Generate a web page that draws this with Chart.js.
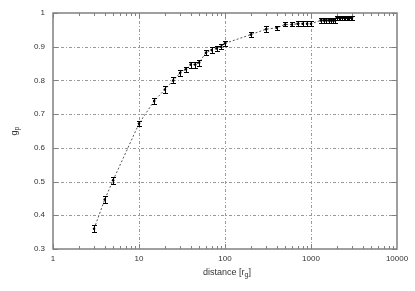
<!DOCTYPE html>
<html>
<head>
<meta charset="utf-8">
<script src="https://cdn.jsdelivr.net/npm/chart.js@4/dist/chart.umd.min.js"></script>
<style>
  html, body { margin: 0; padding: 0; background: #fff; }
  #wrap { width: 415px; height: 291px; }
</style>
</head>
<body>
<div id="wrap"><canvas id="gp-chart" width="415" height="291"></canvas></div>
<script>
// distance in r_g, g_p and its error
const distance = [3, 4, 5, 10, 15, 20, 25, 30, 35, 40, 45, 50, 60, 70, 80, 90, 100,
  200, 300, 400, 500, 600, 700, 800, 900, 1000,
  1300, 1400, 1500, 1600, 1700, 1800, 1900,
  2000, 2100, 2200, 2300, 2400, 2500, 2600, 2700, 2800, 2900, 3000];
const gp = [0.36, 0.447, 0.504, 0.672, 0.739, 0.773, 0.80, 0.822, 0.833, 0.847, 0.847, 0.853, 0.882, 0.89, 0.895, 0.90, 0.91,
  0.936, 0.952, 0.956, 0.966, 0.966, 0.968, 0.968, 0.968, 0.968,
  0.978, 0.978, 0.978, 0.978, 0.978, 0.978, 0.978,
  0.986, 0.986, 0.986, 0.986, 0.986, 0.986, 0.986, 0.986, 0.986, 0.986, 0.986];
const gpErr = [0.01, 0.011, 0.01, 0.008, 0.009, 0.009, 0.009, 0.009, 0.008, 0.009, 0.009, 0.009, 0.008, 0.008, 0.008, 0.008, 0.008,
  0.008, 0.008, 0.006, 0.006, 0.006, 0.008, 0.008, 0.008, 0.008,
  0.007, 0.007, 0.007, 0.007, 0.007, 0.007, 0.007,
  0.006, 0.006, 0.006, 0.006, 0.006, 0.006, 0.006, 0.006, 0.006, 0.006, 0.006];

const xTicks = [1, 10, 100, 1000, 10000];
const yTicks = [0.3, 0.4, 0.5, 0.6, 0.7, 0.8, 0.9, 1.0];
const xTitle = 'distance [r';
const xTitleSub = 'g';
const yTitle = 'g';
const yTitleSub = 'p';

function seg(ctx, x1, y1, x2, y2) {
  ctx.beginPath();
  ctx.moveTo(x1, y1);
  ctx.lineTo(x2, y2);
  ctx.stroke();
}

// gnuplot look: dash-dot grid, inward ticks on all four sides, error bars, titles with subscripts
const gnuplotStyle = {
  id: 'gnuplotStyle',
  beforeDatasetsDraw(chart) {
    const { ctx, chartArea: a, scales: { x, y } } = chart;
    ctx.save();
    ctx.strokeStyle = '#9a9a9a';
    ctx.lineWidth = 1;
    ctx.setLineDash([3, 2, 1, 2]);
    xTicks.slice(1, -1).forEach(v => {
      const px = Math.round(x.getPixelForValue(v)) + 0.5;
      seg(ctx, px, a.top, px, a.bottom);
    });
    yTicks.slice(1, -1).forEach(v => {
      const py = Math.round(y.getPixelForValue(v)) + 0.5;
      seg(ctx, a.left, py, a.right, py);
    });
    ctx.restore();
  },
  afterDatasetsDraw(chart) {
    const { ctx, chartArea: a, scales: { x, y } } = chart;
    ctx.save();

    // error bars
    ctx.strokeStyle = '#000';
    ctx.lineWidth = 1;
    distance.forEach((d, i) => {
      const px = Math.round(x.getPixelForValue(d)) + 0.5;
      const top = Math.round(y.getPixelForValue(gp[i] + gpErr[i])) + 0.5;
      const bot = Math.round(y.getPixelForValue(gp[i] - gpErr[i])) + 0.5;
      seg(ctx, px, top, px, bot);
      seg(ctx, px - 2.5, top, px + 2.5, top);
      seg(ctx, px - 2.5, bot, px + 2.5, bot);
    });

    // frame
    ctx.strokeStyle = '#808080';
    ctx.lineWidth = 1.5;
    ctx.strokeRect(a.left, a.top, a.right - a.left, a.bottom - a.top);

    // ticks
    ctx.lineWidth = 1;
    ctx.strokeStyle = '#808080';
    for (let dec = 1; dec < 10000; dec *= 10) {
      for (let m = 1; m < 10; m++) {
        const v = dec * m;
        const px = Math.round(x.getPixelForValue(v)) + 0.5;
        const len = m === 1 ? 5 : 3;
        seg(ctx, px, a.bottom, px, a.bottom - len);
        seg(ctx, px, a.top, px, a.top + len);
      }
    }
    yTicks.forEach(v => {
      const py = Math.round(y.getPixelForValue(v)) + 0.5;
      seg(ctx, a.left, py, a.left + 5, py);
      seg(ctx, a.right, py, a.right - 5, py);
    });

    // axis titles
    ctx.fillStyle = '#333';
    ctx.textBaseline = 'alphabetic';
    ctx.font = '9px "Liberation Sans", Arial, sans-serif';
    const mainW = ctx.measureText(xTitle).width;
    ctx.font = '7px "Liberation Sans", Arial, sans-serif';
    const subW = ctx.measureText(xTitleSub).width;
    ctx.font = '9px "Liberation Sans", Arial, sans-serif';
    const closeW = ctx.measureText(']').width;
    const cx = (a.left + a.right) / 2 + 2;
    let tx = cx - (mainW + subW + closeW) / 2;
    const ty = 275;
    ctx.textAlign = 'left';
    ctx.fillText(xTitle, tx, ty);
    tx += mainW;
    ctx.font = '7px "Liberation Sans", Arial, sans-serif';
    ctx.fillText(xTitleSub, tx, ty + 2);
    tx += subW;
    ctx.font = '9px "Liberation Sans", Arial, sans-serif';
    ctx.fillText(']', tx, ty);

    ctx.translate(17, (a.top + a.bottom) / 2);
    ctx.rotate(-Math.PI / 2);
    const gW = ctx.measureText(yTitle).width;
    ctx.font = '7px "Liberation Sans", Arial, sans-serif';
    const pW = ctx.measureText(yTitleSub).width;
    let sx = -(gW + pW) / 2;
    ctx.font = '9px "Liberation Sans", Arial, sans-serif';
    ctx.fillText(yTitle, sx, 0);
    ctx.font = '7px "Liberation Sans", Arial, sans-serif';
    ctx.fillText(yTitleSub, sx + gW, 2);
    ctx.restore();
  }
};

const ctx = document.getElementById('gp-chart').getContext('2d');

new Chart(ctx, {
  type: 'line',
  data: {
    datasets: [{
      data: distance.map((d, i) => ({ x: d, y: gp[i] })),
      borderColor: '#555',
      borderWidth: 1,
      borderDash: [2, 2],
      pointRadius: 1.3,
      pointBackgroundColor: '#000',
      pointBorderWidth: 0,
      tension: 0,
      fill: false
    }]
  },
  options: {
    responsive: false,
    devicePixelRatio: 1,
    animation: false,
    layout: { padding: { top: 13, right: 18, left: 0, bottom: 0 } },
    plugins: { legend: { display: false }, tooltip: { enabled: false } },
    scales: {
      x: {
        type: 'logarithmic',
        min: 1,
        max: 10000,
        grid: { display: false, drawTicks: false },
        border: { display: false },
        afterBuildTicks: s => { s.ticks = xTicks.map(v => ({ value: v })); },
        afterFit: s => { s.height = 42; },
        ticks: {
          autoSkip: false,
          maxRotation: 0,
          padding: 5,
          color: '#333',
          font: { family: '"Liberation Sans", Arial, sans-serif', size: 8 },
          callback: v => String(v)
        }
      },
      y: {
        type: 'linear',
        min: 0.3,
        max: 1,
        grid: { display: false, drawTicks: false },
        border: { display: false },
        afterBuildTicks: s => { s.ticks = yTicks.map(v => ({ value: v })); },
        afterFit: s => { s.width = 53; },
        ticks: {
          padding: 8,
          color: '#333',
          font: { family: '"Liberation Sans", Arial, sans-serif', size: 8 },
          callback: v => (v === 1 ? '1' : v.toFixed(1))
        }
      }
    }
  },
  plugins: [gnuplotStyle]
});
</script>
</body>
</html>
